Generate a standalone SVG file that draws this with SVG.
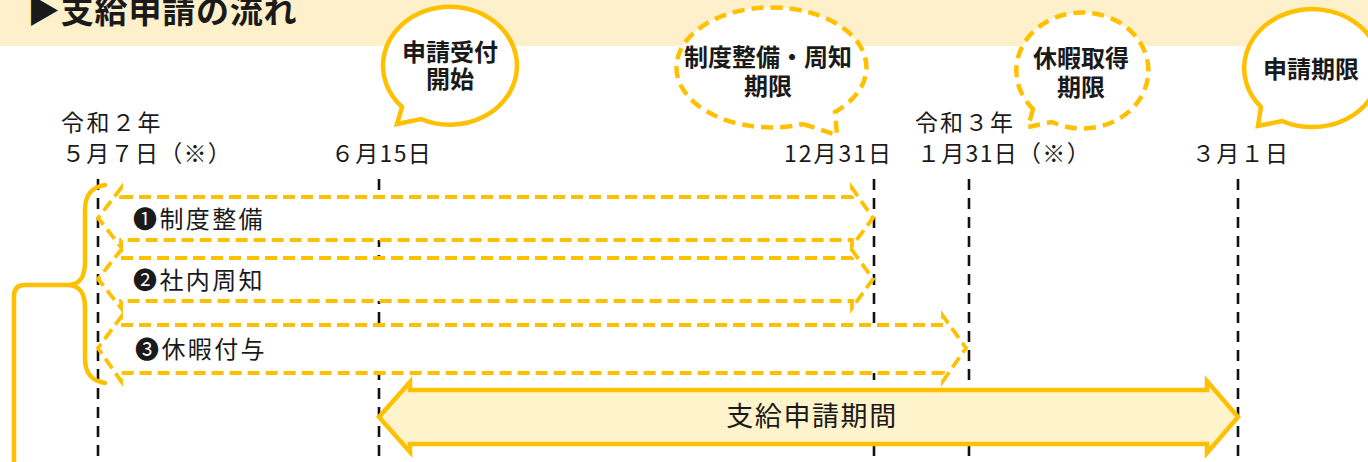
<svg xmlns="http://www.w3.org/2000/svg" width="1368" height="462" viewBox="0 0 1368 462">
<style>
text{font-family:"Noto Sans CJK JP","Noto Sans CJK SC",sans-serif;fill:#1a1a1a}
.title{font-size:33px;font-weight:700;letter-spacing:0.8px}
.date{font-size:23px;letter-spacing:1.3px}
.lbl{font-size:24px;letter-spacing:2.4px}
.bub{font-size:24px;font-weight:700;text-anchor:middle}
.big{font-size:27px;letter-spacing:1.6px;text-anchor:middle}
.vline{stroke:#111;stroke-width:2.6;stroke-dasharray:11 8;fill:none}
.dash{fill:#fff;stroke:#FFC000;stroke-width:3.8;stroke-dasharray:12 6;stroke-linejoin:miter}
.solid{fill:#fff;stroke:#FFC000;stroke-width:4.5}
.bubd{fill:#fff;stroke:#FFC000;stroke-width:4.5;stroke-dasharray:12 7}
.brace{fill:none;stroke:#FFC000;stroke-width:4.5;stroke-linecap:round;stroke-linejoin:round}
</style>
<rect width="1368" height="462" fill="#fff"/>
<g id="header">
<rect x="0" y="0" width="1368" height="46" fill="#FDF0CA"/>
<text class="title" x="27" y="23">▶支給申請の流れ</text>
</g>
<g id="timeline-lines">
<line class="vline" x1="98" y1="179" x2="98" y2="462"/>
<line class="vline" x1="379" y1="179" x2="379" y2="462"/>
<line class="vline" x1="874" y1="179" x2="874" y2="462"/>
<line class="vline" x1="969" y1="179" x2="969" y2="462"/>
<line class="vline" x1="1238" y1="179" x2="1238" y2="462"/>
</g>
<g id="dates">
<text class="date" x="61" y="131" style="letter-spacing:2.5px">令和２年</text>
<text class="date" x="62" y="162">５月７日（※）</text>
<text class="date" x="331" y="162">６月15日</text>
<text class="date" x="784" y="162" style="letter-spacing:2px">12月31日</text>
<text class="date" x="915" y="131" style="letter-spacing:2px">令和３年</text>
<text class="date" x="917" y="162">１月31日（※）</text>
<text class="date" x="1192" y="162">３月１日</text>
</g>
<g id="bubble-start">
<path class="solid" d="M402,107 L397,124 L421,119 A67,59 0 1 0 402,107 Z"/>
<text class="bub"><tspan x="450" y="61">申請受付</tspan><tspan x="450" y="88">開始</tspan></text>
</g>
<g id="bubble-system">
<path class="bubd" d="M803,124 L837,135 L835,112 A95,60 0 1 0 803,124 Z"/>
<text class="bub"><tspan x="768" y="66">制度整備・周知</tspan><tspan x="768" y="95">期限</tspan></text>
</g>
<g id="bubble-leave">
<path class="bubd" d="M1033,109 L1028,127 L1052,122 A66,58 0 1 0 1033,109 Z"/>
<text class="bub"><tspan x="1081" y="67">休暇取得</tspan><tspan x="1081" y="96">期限</tspan></text>
</g>
<g id="bubble-deadline">
<path class="solid" d="M1261,107 L1258,126 L1282,121 A68,59 0 1 0 1261,107 Z"/>
<text class="bub" x="1311" y="78">申請期限</text>
</g>
<g id="task-1">
<path class="dash" d="M121,197 L852,197 L852,188 L873,218 L852,246 L852,240 L121,240 L121,247 L98,218 L121,188 Z"/>
<text class="lbl" x="133" y="228">❶制度整備</text>
</g>
<g id="task-2">
<path class="dash" d="M121,258 L852,258 L852,250 L873,279 L852,308 L852,301 L121,301 L121,308 L98,279 L121,250 Z"/>
<text class="lbl" x="133" y="289">❷社内周知</text>
</g>
<g id="task-3">
<path class="dash" d="M121,325 L943,325 L943,316 L966,348 L943,381 L943,373 L121,373 L121,381 L98,348 L121,317 Z"/>
<text class="lbl" x="135" y="358">❸休暇付与</text>
</g>
<g id="application-period">
<path d="M379,417 L410,382 L410,390 L1207,390 L1207,381 L1238,417 L1207,453 L1207,444 L410,444 L410,452 Z" fill="#FFF3CC" stroke="#FFC000" stroke-width="4.5"/>
<text class="big" x="812" y="426">支給申請期間</text>
</g>
<g id="brace">
<path class="brace" d="M105,185 C92,187 85,194 85,210 L85,262 C85,277 80,284 69,285 C80,286 85,293 85,308 L85,358 C85,374 92,381 105,383"/>
</g>
<g id="connectors">
<path class="brace" d="M69,285 L25,285 Q14,285 14,296 L14,462"/>
</g>
</svg>
